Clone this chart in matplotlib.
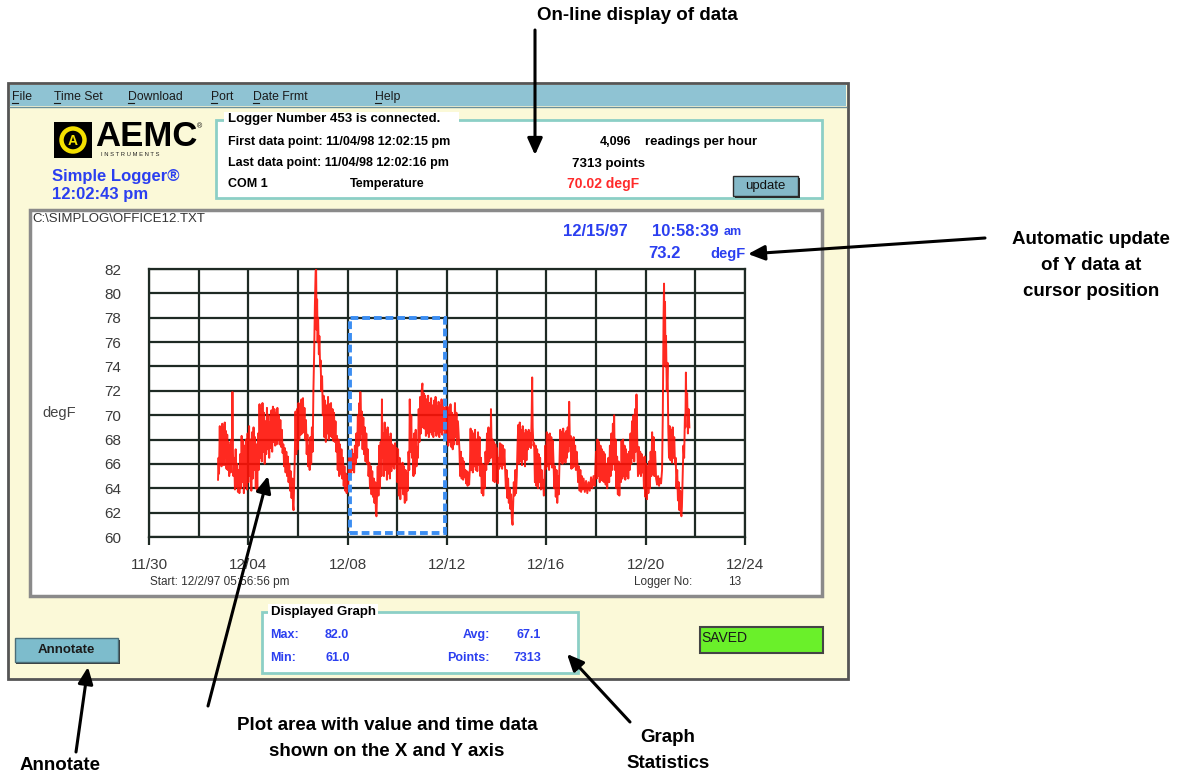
import matplotlib
matplotlib.use("Agg")
import matplotlib.pyplot as plt
from matplotlib.patches import Rectangle, Circle, FancyArrowPatch

# ---------------- data ----------------
# time in days since 11/30/97 00:00, temperature in degF
times = [
 2.78,2.80,2.82,2.85,2.87,2.90,2.92,2.95,2.97,3.00,3.02,3.05,3.07,3.10,3.12,3.15,3.17,3.20,3.23,3.26,3.29,3.32,3.34,3.36,3.38,3.40,
 3.43,3.46,3.49,3.52,3.55,3.58,3.61,3.64,3.67,3.70,3.73,3.76,3.79,3.82,3.85,3.88,3.91,3.94,
 3.97,4.00,4.03,4.06,4.09,4.12,4.15,4.18,4.21,4.24,4.27,4.30,4.33,4.36,4.39,4.42,
 4.45,4.48,4.51,4.54,4.57,4.60,4.63,4.66,4.69,4.72,4.75,4.78,4.81,4.84,4.87,4.90,4.93,4.96,4.99,5.02,5.05,5.08,5.11,5.14,5.17,5.20,5.23,5.26,5.29,5.32,5.35,
 5.38,5.41,5.44,5.47,5.50,5.53,5.56,5.59,5.62,5.65,5.68,5.71,5.74,5.77,5.80,5.82,5.84,
 5.87,5.90,5.93,5.96,5.99,6.02,6.05,6.08,6.11,6.14,6.17,6.20,6.23,6.26,6.29,6.32,6.35,6.38,6.41,6.44,6.47,6.50,6.53,6.56,6.59,
 6.62,6.65,6.68,6.71,6.73,6.75,6.77,6.79,6.81,6.84,6.86,6.89,6.91,6.94,6.97,7.00,
 7.03,7.06,7.09,7.12,7.15,7.18,7.21,7.24,7.27,7.30,7.33,7.36,7.39,7.42,7.45,7.48,
 7.51,7.54,7.57,7.60,7.63,7.66,7.69,7.72,7.75,7.78,7.81,7.84,7.87,7.90,7.93,7.96,7.99,8.02,
 8.05,8.08,8.11,8.14,8.17,8.20,8.23,8.26,8.29,8.32,
 8.35,8.38,8.41,8.44,8.47,8.50,8.51,8.54,8.57,8.60,8.63,8.66,8.69,8.72,8.75,8.78,8.81,
 8.84,8.87,8.90,8.93,8.96,8.99,9.02,9.05,9.08,9.11,9.14,9.16,9.18,
 9.21,9.24,9.27,9.30,9.33,9.36,9.38,9.40,9.43,9.46,9.49,9.52,9.55,9.58,9.61,9.64,9.67,9.70,9.73,9.76,
 9.79,9.82,9.85,9.88,9.91,9.94,9.97,
 10.00,10.03,10.06,10.09,10.12,10.15,10.18,
 10.21,10.24,10.27,10.30,10.33,10.36,10.39,10.42,
 10.45,10.48,10.50,10.53,10.56,10.59,10.62,10.65,10.68,10.71,10.74,10.77,10.80,
 10.83,10.86,10.89,10.92,10.95,10.98,11.01,11.03,11.06,11.09,
 11.12,11.15,11.18,11.21,11.24,11.27,11.30,11.33,11.36,11.39,11.42,11.45,11.48,11.51,11.54,11.57,11.60,11.63,11.66,11.69,11.72,11.75,11.78,11.81,11.84,11.87,11.90,11.93,
 11.96,11.99,12.02,12.05,12.08,12.11,12.14,12.17,12.20,12.23,12.26,12.29,12.32,12.35,12.38,12.41,12.44,12.47,
 12.50,12.53,12.56,12.59,12.62,12.65,12.68,12.71,
 12.74,12.77,12.80,12.83,12.86,12.89,12.92,
 12.95,12.98,13.01,13.04,13.07,13.10,13.13,13.16,13.19,13.22,13.25,13.28,13.31,
 13.34,13.37,13.40,13.43,13.46,13.49,13.52,
 13.55,13.58,13.61,13.64,13.67,13.70,13.73,13.76,13.77,13.80,
 13.83,13.86,13.89,13.92,13.95,13.98,14.01,14.04,14.07,
 14.10,14.13,14.16,14.19,14.22,14.25,14.28,14.31,
 14.34,14.37,14.40,14.43,14.46,14.49,14.52,14.55,14.58,14.61,14.64,14.66,
 14.69,14.72,14.75,14.78,14.81,
 14.84,14.87,14.90,14.93,14.96,14.99,15.02,15.05,15.08,15.11,15.14,15.17,15.20,
 15.23,15.26,15.29,15.32,15.35,15.38,15.41,15.43,15.45,15.48,
 15.51,15.54,15.57,15.60,15.63,15.66,15.69,15.72,15.75,15.78,
 15.81,15.84,15.87,15.90,15.93,
 15.96,15.99,16.02,16.05,16.08,16.11,16.14,16.17,16.20,16.23,16.26,
 16.29,16.32,16.35,16.38,16.41,16.44,16.47,16.50,16.53,
 16.56,16.59,16.62,16.65,16.68,16.71,16.74,16.77,16.80,16.83,16.86,16.89,16.92,16.95,
 16.98,17.01,17.04,17.07,17.10,17.13,17.16,17.19,17.22,
 17.25,17.28,17.31,17.34,17.37,17.40,17.43,17.46,
 17.50,17.55,17.60,17.65,17.70,17.75,17.80,17.85,17.90,17.95,
 18.00,18.03,18.06,18.09,18.12,18.15,18.18,18.21,18.24,18.27,18.30,18.33,18.36,18.39,18.42,18.45,
 18.50,18.53,18.56,18.59,18.62,18.65,18.68,18.71,18.73,18.76,18.79,18.82,
 18.85,18.88,18.91,18.94,18.97,19.00,
 19.03,19.06,19.09,19.12,19.15,19.18,19.21,19.24,19.27,19.30,
 19.33,19.36,19.39,19.42,19.45,19.48,19.51,19.54,19.57,19.60,19.63,19.66,
 19.69,19.72,19.75,19.78,19.81,19.84,19.87,19.90,
 19.93,19.96,19.99,20.02,20.05,20.08,20.11,20.14,20.17,
 20.20,20.23,20.26,20.29,20.32,20.35,20.38,
 20.42,20.46,20.50,20.54,20.58,20.62,20.66,
 20.69,20.72,20.74,20.76,20.78,20.80,20.82,20.85,20.88,20.91,
 20.94,20.97,21.00,21.03,21.06,21.09,21.12,21.15,21.18,
 21.21,21.24,21.27,21.30,21.33,21.36,21.39,21.42,21.44,21.46,
 21.49,21.52,21.55,21.58,21.60,21.62,21.64,21.67,21.70,21.73,21.76,
]
temps = [
 64.7,66.5,65.2,69.1,66.0,68.8,65.8,69.3,66.3,69.0,65.9,69.4,66.5,68.7,65.6,68.4,65.5,67.8,65.0,67.5,65.3,68.0,66.0,71.9,67.0,65.0,
 66.5,63.9,67.2,64.1,66.0,63.7,65.5,63.6,66.8,64.0,68.3,64.5,67.9,63.6,67.5,64.2,68.0,63.9,
 68.5,64.5,69.1,65.0,68.0,63.8,68.6,64.8,69.0,65.5,68.2,64.0,67.6,63.8,68.5,65.5,
 70.9,66.5,70.5,66.2,71.0,67.0,70.2,66.0,69.5,66.8,70.6,67.2,70.0,66.5,69.4,67.3,70.4,67.0,70.7,67.8,70.5,67.5,70.2,67.6,70.6,68.0,70.0,67.6,69.6,67.4,68.8,
 66.9,67.6,65.8,67.3,65.3,67.0,65.0,66.6,64.5,66.0,63.8,65.4,63.2,64.8,62.6,62.2,64.0,
 66.5,70.3,66.8,70.5,67.2,71.0,68.0,70.8,68.4,71.3,68.5,71.4,68.6,70.6,68.0,69.6,66.8,68.4,65.8,67.5,65.5,68.2,66.0,69.0,67.0,
 72.0,75.0,79.0,81.8,82.0,77.0,79.5,76.0,78.0,75.0,76.5,74.0,74.5,72.0,73.2,70.0,
 71.6,68.2,71.2,67.8,70.8,68.5,71.5,68.0,70.9,68.3,71.0,68.2,70.5,67.9,70.2,67.8,
 69.5,67.0,68.3,65.5,68.0,65.0,67.6,65.2,67.2,64.8,66.5,64.2,65.8,63.8,65.2,63.6,65.0,64.0,
 66.5,65.0,67.0,65.2,67.2,65.5,66.8,65.3,67.5,66.0,
 68.5,66.5,70.0,67.5,71.0,68.0,71.9,68.5,70.3,67.2,69.8,66.8,69.0,66.2,68.5,66.0,67.2,
 65.0,66.1,64.0,65.8,63.5,65.4,63.3,64.8,62.8,64.5,61.9,61.7,63.5,
 65.8,63.4,67.5,64.0,67.8,65.0,71.3,66.5,68.5,65.0,69.4,65.5,68.8,64.7,69.0,65.2,68.2,64.8,68.5,65.4,
 67.6,65.8,67.5,65.6,67.7,66.0,67.3,
 64.5,67.2,63.4,66.5,63.1,66.0,64.0,
 66.1,63.5,65.8,62.8,65.5,63.0,65.2,63.8,
 67.0,65.5,71.3,67.0,70.0,66.5,68.0,65.0,68.5,65.2,68.8,65.8,67.4,
 66.5,70.5,67.8,71.5,68.5,72.0,72.6,69.0,71.8,68.9,
 71.6,68.3,71.3,68.5,71.6,68.2,71.0,68.6,71.4,68.4,70.8,68.2,71.2,68.7,71.5,68.3,70.7,68.5,71.1,68.2,70.8,68.6,71.3,68.4,71.0,68.8,70.6,68.3,
 71.0,68.0,70.7,67.5,70.5,67.8,70.9,67.4,70.2,67.2,70.0,67.6,71.0,68.2,70.2,67.6,69.5,68.3,
 67.2,65.0,67.0,64.8,66.5,64.7,66.2,64.9,
 65.5,64.4,65.4,64.2,65.3,64.3,65.6,
 68.9,65.5,68.7,65.3,68.5,65.8,68.8,65.5,68.0,65.4,68.6,65.9,68.2,
 65.0,66.5,63.6,66.0,63.4,65.8,64.0,
 67.0,65.5,68.5,66.0,69.0,66.2,68.8,66.5,70.5,67.0,
 68.0,64.6,67.8,64.5,67.6,64.8,67.3,64.4,66.5,
 65.6,67.7,65.8,67.6,65.6,67.5,65.9,67.2,
 65.5,64.0,65.5,63.2,64.8,62.8,64.0,62.3,63.5,61.5,61.0,62.5,
 64.5,63.4,65.5,63.6,65.0,
 67.5,69.2,66.0,69.4,66.2,68.8,65.9,69.1,66.4,68.5,65.8,68.8,66.3,
 68.6,67.2,68.8,67.4,68.5,67.3,70.0,73.1,69.0,67.5,
 67.7,64.5,67.5,64.2,67.2,64.0,66.8,64.5,66.5,63.9,
 65.5,64.0,64.7,63.4,65.0,
 67.5,65.6,68.6,65.8,68.4,65.5,68.5,66.0,68.2,65.7,67.9,
 66.1,64.0,65.8,63.3,65.5,62.8,65.0,63.5,66.0,
 68.8,66.2,68.6,66.0,68.9,66.3,68.5,66.1,68.7,66.5,69.0,67.0,71.1,67.5,
 68.3,65.6,68.0,65.7,68.2,65.8,67.5,65.5,67.0,
 66.0,64.5,65.8,63.8,65.5,63.7,65.0,63.9,
 64.8,63.7,64.6,63.6,64.5,63.8,64.9,64.0,65.0,64.2,
 67.0,64.8,68.0,65.0,67.8,64.5,67.5,64.7,67.2,64.6,67.0,64.5,66.8,64.3,66.0,64.0,
 66.5,64.5,67.5,65.0,68.5,65.5,69.3,66.0,70.0,65.5,68.0,64.0,
 66.6,63.5,66.2,63.4,66.0,64.5,
 67.9,64.8,68.0,65.0,67.5,64.7,67.2,65.0,66.8,64.8,
 67.0,65.5,68.5,66.0,69.5,66.5,70.0,66.2,70.5,67.0,71.7,68.0,
 65.0,67.4,65.2,67.0,65.0,66.8,65.3,66.5,
 64.0,66.6,63.3,66.0,63.1,65.8,63.6,66.2,64.0,
 67.0,65.0,68.6,65.2,68.2,65.0,67.0,
 64.8,64.3,65.0,64.2,64.8,64.4,65.5,
 70.0,78.0,80.8,76.0,79.3,74.0,76.5,72.0,74.3,69.0,
 66.5,69.1,66.3,68.8,66.1,69.0,66.5,68.2,66.0,
 66.5,64.0,65.5,63.0,64.5,62.2,63.8,61.9,61.7,62.5,
 65.0,67.5,66.5,70.0,69.0,73.5,70.5,71.8,68.5,70.5,69.0,
]

x_ticks = [0, 4, 8, 12, 16, 20, 24]
x_tick_labels = ["11/30", "12/04", "12/08", "12/12", "12/16", "12/20", "12/24"]
y_ticks = [60, 62, 64, 66, 68, 70, 72, 74, 76, 78, 80, 82]

# zoom selection box (days, degF)
sel_t0, sel_t1 = 8.08, 11.90
sel_v0, sel_v1 = 60.35, 78.0

menu_items = ["File", "Time Set", "Download", "Port", "Date Frmt", "Help"]
menu_x = [12, 54, 128, 211, 253, 375]

stats_labels = ["Max:", "Min:", "Avg:", "Points:"]
stats_values = ["82.0", "61.0", "67.1", "7313"]

# ---------------- figure ----------------
W, H = 1198, 777
fig = plt.figure(figsize=(W / 100, H / 100), dpi=100)
fig.patch.set_facecolor("white")
bg = fig.add_axes([0, 0, 1, 1])
bg.set_xlim(0, W)
bg.set_ylim(H, 0)
bg.axis("off")

SANS = ["Liberation Sans", "DejaVu Sans"]
BLUE = "#2b3ff0"
CREAM = "#fbf9d8"
TEAL = "#8ccfc6"

def rect(x0, y0, x1, y1, fc, ec="none", lw=1.0, z=1):
    bg.add_patch(Rectangle((x0, y0), x1 - x0, y1 - y0, facecolor=fc,
                           edgecolor=ec, linewidth=lw, zorder=z))

def txt(x, y, s, size=9, color="black", weight="normal", ha="left", va="center", z=5, target=None, **kw):
    (target or bg).text(x, y, s, fontsize=size, color=color, fontweight=weight, ha=ha, va=va,
                        family=SANS, zorder=z, **kw)

# window
rect(8, 83, 848, 679, CREAM, ec="#555555", lw=2.0, z=1)
rect(10, 85, 846, 106, "#8fc3d3", z=2)
bg.plot([10, 846], [106.5, 106.5], color="#6a8f9a", lw=1, zorder=3)
for s, x in zip(menu_items, menu_x):
    txt(x, 97, s, size=8.8, color="#1a1a1a", z=4)
    bg.plot([x, x + 6], [102.5, 102.5], color="#1a1a1a", lw=0.8, zorder=4)

# logo
rect(54, 122, 92, 158, "black", z=3)
bg.add_patch(Circle((73, 140), 11.5, facecolor="none", edgecolor="#f4e000", lw=3.2, zorder=4))
txt(73, 141, "A", size=10, color="#f4e000", weight="bold", ha="center", z=5)
txt(95, 137, "AEMC", size=25, color="black", weight="bold", z=4)
txt(197, 127, "®", size=5, color="black", z=4)
txt(101, 155, "I N S T R U M E N T S", size=4.2, color="#222222", z=4)
txt(52, 176, "Simple Logger®", size=12, color=BLUE, weight="bold", z=4)
txt(52, 195, "12:02:43 pm", size=12, color=BLUE, weight="bold", z=4)

# info box
rect(216, 120, 822, 198, "white", ec=TEAL, lw=2.0, z=2)
bg.add_patch(Rectangle((224, 112), 235, 14, facecolor="white", edgecolor="none", zorder=3))
txt(228, 119, "Logger Number 453 is connected.", size=9.5, weight="bold", z=4)
txt(228, 142, "First data point: 11/04/98 12:02:15 pm", size=9, weight="bold", z=4)
txt(228, 163, "Last data point: 11/04/98 12:02:16 pm", size=9, weight="bold", z=4)
txt(228, 184, "COM 1", size=9, weight="bold", z=4)
txt(350, 184, "Temperature", size=9, weight="bold", z=4)
txt(600, 142, "4,096", size=9, weight="bold", z=4)
txt(645, 142, "readings per hour", size=9.5, weight="bold", z=4)
txt(572, 164, "7313 points", size=9.5, weight="bold", z=4)
txt(567, 184, "70.02 degF", size=10, weight="bold", color="#ff2a2a", z=4)
rect(735, 178, 800, 198, "#2b2b2b", z=3)
rect(733, 176, 798, 196, "#85b9c8", ec="#2b2b2b", lw=1, z=4)
txt(765.5, 186, "update", size=9.5, color="#111111", ha="center", z=5)

# plot panel
rect(30, 210, 822, 596, "white", ec="#8a8a8a", lw=2.5, z=2)
txt(32, 219, "C:\\SIMPLOG\\OFFICE12.TXT", size=9.5, color="#333333", z=4)
txt(563, 231, "12/15/97", size=12, weight="bold", color=BLUE, z=4)
txt(652, 231, "10:58:39", size=12, weight="bold", color=BLUE, z=4)
txt(724, 232, "am", size=9, weight="bold", color=BLUE, z=4)
txt(648, 254, "73.2", size=12, weight="bold", color=BLUE, z=4)
txt(746, 254, "degF", size=10.5, weight="bold", color=BLUE, ha="right", z=4)
txt(42, 413, "degF", size=10.5, color="#444444", z=4)
txt(150, 582, "Start: 12/2/97 05:56:56 pm", size=8.5, color="#333333", z=4)
txt(634, 582, "Logger No:", size=8.5, color="#333333", z=4)
txt(728, 582, "13", size=8.5, color="#333333", z=4)

# stats box
rect(262, 612, 578, 673, "white", ec=TEAL, lw=2.0, z=2)
bg.add_patch(Rectangle((268, 604), 110, 14, facecolor="white", edgecolor="none", zorder=3))
txt(271, 612, "Displayed Graph", size=9.5, weight="bold", z=4)
txt(270, 635, stats_labels[0], size=9, weight="bold", color=BLUE, z=4)
txt(270, 658, stats_labels[1], size=9, weight="bold", color=BLUE, z=4)
txt(325, 635, stats_values[0], size=9, weight="bold", color=BLUE, z=4)
txt(325, 658, stats_values[1], size=9, weight="bold", color=BLUE, z=4)
txt(490, 635, stats_labels[2], size=9, weight="bold", color=BLUE, ha="right", z=4)
txt(490, 658, stats_labels[3], size=9, weight="bold", color=BLUE, ha="right", z=4)
txt(541, 635, stats_values[2], size=9, weight="bold", color=BLUE, ha="right", z=4)
txt(541, 658, stats_values[3], size=9, weight="bold", color=BLUE, ha="right", z=4)

# buttons
rect(16, 640, 120, 664, "#3a3a3a", z=3)
rect(15, 638, 118, 662, "#7dbccc", ec="#4a6e78", lw=1, z=4)
txt(66.5, 650, "Annotate", size=9.5, weight="bold", color="#1a1a1a", ha="center", z=5)
rect(700, 627, 823, 653, "#6af02a", ec="#444444", lw=1.5, z=3)
txt(701, 638, "SAVED", size=10, color="#1a1a1a", z=4)

# ---------------- main plot ----------------
L, R, T, B = 149, 745, 269, 537
ax = fig.add_axes([L / W, 1 - B / H, (R - L) / W, (B - T) / H], zorder=5)
ax.set_facecolor("white")
ax.plot(times, temps, color="#ff1208", lw=1.4, alpha=0.9, zorder=3)
ax.add_patch(Rectangle((sel_t0, sel_v0), sel_t1 - sel_t0, sel_v1 - sel_v0, fill=False,
                       edgecolor="#3c8ef2", lw=2.8, linestyle=(0, (2.0, 1.0)), zorder=4))
ax.set_xlim(0, 24)
ax.set_ylim(60, 82)
ax.set_xticks(x_ticks)
ax.set_xticklabels(x_tick_labels)
ax.set_xticks(list(range(0, 25, 2)), minor=True)
ax.set_yticks(y_ticks)
ax.grid(True, which="both", color="#1e2a24", lw=1.6, zorder=1)
ax.set_axisbelow(True)
for sp in ax.spines.values():
    sp.set_color("#1e2a24")
    sp.set_linewidth(1.6)
ax.tick_params(axis="x", which="major", length=6, width=1.6, color="#1e2a24",
               pad=9, labelsize=11, labelcolor="#3a3a3a")
ax.tick_params(axis="x", which="minor", length=0)
ax.tick_params(axis="y", length=0, pad=20, labelsize=11, labelcolor="#3a3a3a")
for lab in ax.get_xticklabels() + ax.get_yticklabels():
    lab.set_family(SANS)

# ---------------- callout overlay (on top of everything) ----------------
top = fig.add_axes([0, 0, 1, 1], zorder=20)
top.set_xlim(0, W)
top.set_ylim(H, 0)
top.axis("off")
top.patch.set_alpha(0)

ANN = dict(size=13.5, weight="bold", color="black", ha="center", va="center", z=6, target=top)
txt(637, 15, "On-line display of data", **ANN)
txt(1091, 240, "Automatic update", **ANN)
txt(1091, 266, "of Y data at", **ANN)
txt(1091, 292, "cursor position", **ANN)
txt(387, 725, "Plot area with value and time data", **ANN)
txt(387, 751, "shown on the X and Y axis", **ANN)
txt(668, 737, "Graph", **ANN)
txt(668, 763, "Statistics", **ANN)
txt(60, 766, "Annotate", **ANN)

def arrow(x0, y0, x1, y1):
    top.add_patch(FancyArrowPatch((x0, y0), (x1, y1), arrowstyle="-|>,head_length=10,head_width=4.5",
                                  mutation_scale=1, color="black", lw=2.2, zorder=7,
                                  shrinkA=0, shrinkB=0))

arrow(535, 30, 535, 155)
arrow(985, 238, 748, 254)
arrow(208, 706, 268, 476)
arrow(630, 722, 567, 654)
arrow(76, 752, 88, 667)

fig.savefig("out.png", dpi=100, facecolor="white")
